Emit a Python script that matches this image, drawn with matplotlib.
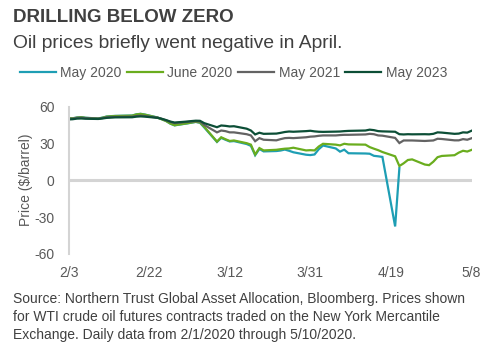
import matplotlib
matplotlib.use("Agg")
import matplotlib.pyplot as plt
import pandas as pd

plt.rcParams["font.family"] = ["Liberation Sans", "DejaVu Sans"]
plt.rcParams["axes.unicode_minus"] = False

# trading days, Presidents' Day and Good Friday excluded
dates = pd.bdate_range("2020-02-03", "2020-05-08")
dates = dates.drop(pd.to_datetime(["2020-02-17", "2020-04-10"]))

# settlement prices, $/barrel
may_2020 = [50.6, 50.5, 51.1, 51.4, 50.9,
            50.3, 51.0, 51.9, 52.2, 52.4,
            52.7, 53.7, 54.1, 53.5,
            51.1, 49.7, 48.3, 46.1, 44.7,
            46.3, 46.9, 47.5, 46.8, 43.0,
            31.2, 34.5, 33.0, 31.6, 31.9,
            29.5, 28.0, 20.4, 25.5, 23.5,
            23.8, 24.2, 25.0, 24.0, 22.8,
            20.8, 20.5, 21.0, 25.3, 28.3,
            25.9, 23.3, 24.9, 22.0,
            21.8, 21.6, 19.9, 19.5, 19.0,
            -37.6, 10.0]

june_2020 = [50.5, 50.4, 51.0, 51.3, 50.8,
             50.2, 50.9, 51.8, 52.1, 52.3,
             52.6, 53.6, 54.0, 53.4,
             51.0, 49.6, 48.2, 46.2, 44.8,
             46.4, 47.0, 47.6, 47.0, 43.5,
             31.5, 35.0, 33.4, 32.0, 32.4,
             30.2, 29.0, 21.0, 26.2, 24.3,
             24.8, 25.3, 25.7, 25.9, 26.5,
             24.3, 24.5, 24.3, 27.5, 29.7,
             29.0, 28.4, 29.7, 29.2,
             29.0, 27.0, 25.7, 24.5, 23.0,
             19.5, 11.6, 13.8, 16.5, 17.0,
             12.8, 12.3, 15.1, 18.8, 19.8,
             20.4, 22.5, 24.0, 23.4, 24.7]

may_2021 = [50.0, 50.2, 50.8, 50.9, 50.6,
            50.2, 50.6, 51.3, 51.5, 51.6,
            51.8, 52.3, 52.6, 52.3,
            51.0, 50.0, 48.8, 47.5, 46.5,
            47.5, 47.8, 48.0, 47.8, 45.0,
            39.0, 40.5, 40.0, 39.0, 39.0,
            37.5, 36.5, 31.8, 34.3, 33.0,
            32.5, 33.5, 34.3, 34.5, 34.3,
            35.0, 35.5, 35.7, 36.2, 36.5,
            36.5, 36.8, 37.0, 37.0,
            37.3, 37.8, 37.5, 36.5, 36.3,
            34.5, 30.3, 32.4, 32.4, 32.4,
            32.0, 32.2, 32.4, 33.8, 33.6,
            32.5, 32.5, 33.5, 33.0, 34.2]

may_2023 = [49.5, 49.7, 50.2, 50.3, 50.1,
            49.9, 50.3, 50.8, 51.0, 51.2,
            51.3, 51.8, 52.0, 51.8,
            50.8, 50.0, 49.0, 47.8, 47.0,
            47.8, 48.2, 48.5, 48.4, 46.5,
            43.2, 44.6, 44.3, 43.8, 44.0,
            42.0, 40.5, 37.3, 38.7, 37.8,
            38.0, 38.6, 39.3, 39.7, 39.5,
            40.0, 40.3, 39.8, 39.5, 39.4,
            39.6, 39.7, 40.0, 40.2,
            40.5, 41.2, 40.8, 40.0, 39.8,
            39.5, 37.5, 37.3, 37.5, 37.4,
            37.5, 37.4, 37.8, 39.0, 38.8,
            37.8, 38.0, 39.0, 38.8, 40.3]

labels = ["May 2020", "June 2020", "May 2021", "May 2023"]
colors = ["#1e9eb4", "#6aad1e", "#636363", "#0c4e36"]
series = [may_2020, june_2020, may_2021, may_2023]

text_dark = "#404040"
text_grey = "#595959"

fig = plt.figure(figsize=(5, 3.46), dpi=100)
ax = fig.add_axes([0.137, 0.266, 0.806, 0.426])

ax.axhline(0, color="#d4d4d4", lw=2.2, zorder=1)
handles = []
for vals, lab, col in zip(series, labels, colors):
    h, = ax.plot(dates[:len(vals)], vals, color=col, lw=1.6, label=lab,
                 solid_joinstyle="miter", zorder=2)
    handles.append(h)

ax.set_ylim(-60, 60)
ax.set_yticks([-60, -30, 0, 30, 60])
ax.set_xlim(pd.Timestamp("2020-02-03"), pd.Timestamp("2020-05-08"))
ticks = pd.date_range("2020-02-03", periods=6, freq="19D")
ax.set_xticks(ticks)
ax.set_xticklabels([f"{d.month}/{d.day}" for d in ticks])

for s in ["top", "right", "bottom"]:
    ax.spines[s].set_visible(False)
ax.spines["left"].set_color("#d4d4d4")
ax.spines["left"].set_linewidth(1.5)
ax.tick_params(length=0, labelsize=10, labelcolor=text_grey)
ax.tick_params(axis="x", pad=9)
ax.tick_params(axis="y", pad=10)

fig.text(26 / 500, 1 - 180 / 346, "Price ($/barrel)", rotation=90,
         ha="center", va="center", fontsize=10, color=text_grey)

fig.legend(handles=handles, loc="center left",
           bbox_to_anchor=(20 / 500, 1 - 73 / 346), ncol=4, frameon=False,
           fontsize=10, handlelength=2.6, handletextpad=0.3,
           columnspacing=0.4, borderpad=0, borderaxespad=0,
           labelcolor=text_grey)

fig.text(13 / 500, 1 - 21.5 / 346, "DRILLING BELOW ZERO", fontsize=13.5,
         fontweight="bold", color=text_dark, va="baseline")
fig.text(13 / 500, 1 - 48 / 346, "Oil prices briefly went negative in April.",
         fontsize=13.9, color=text_dark, va="baseline")

source = ["Source: Northern Trust Global Asset Allocation, Bloomberg. Prices shown",
          "for WTI crude oil futures contracts traded on the New York Mercantile",
          "Exchange. Daily data from 2/1/2020 through 5/10/2020."]
for i, line in enumerate(source):
    fig.text(13 / 500, 1 - (303 + 18 * i) / 346, line, fontsize=10,
             color=text_dark, va="baseline")

fig.savefig("out.png", dpi=100)
